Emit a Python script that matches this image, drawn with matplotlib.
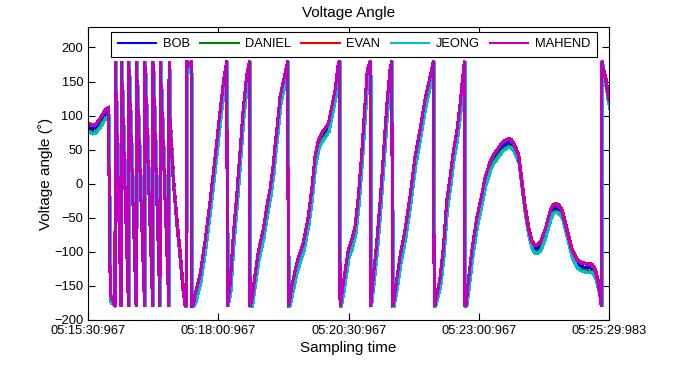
import numpy as np
import matplotlib
matplotlib.use("Agg")
import matplotlib.pyplot as plt

plt.rcParams['font.family'] = ['Liberation Sans', 'DejaVu Sans']

# ---- data (seconds from 05:15:30.967, angle in degrees) : MAHEND trace ----
t_base = [0, 4.6, 8.3, 14, 19.7, 23.4, 25.6, 31.0,
          31.3, 38.0, 38.3, 46.5, 46.8, 55.3, 55.6, 65.0, 65.3, 74.3, 74.6, 82.7, 83.0, 92.9,
          93.2, 94.3, 98.1, 102.0, 105.8, 108.4, 111.5, 112.7,
          113.3, 115.5, 118.0, 118.6, 119.2,
          121.1, 123.0, 128.8, 134.5, 140.3, 146.0, 151.8, 156.7, 159.6, 160.2,
          163.3, 167.1, 171.0, 174.8, 178.5, 182.5, 185.6, 186.3,
          188.2, 192.0, 195.8, 201.5, 207.3, 209.2, 213.0, 215.0, 218.8, 220.7, 226.5, 229.6, 230.3,
          231.4, 234.2, 239.9, 247.5, 253.3, 257.2, 261.0, 264.8, 268.7, 276.3, 280.2, 284.0, 287.8, 289.2, 289.8,
          290.5, 293.5, 299.3, 303.2, 307.0, 310.8, 314.7, 318.5, 321.1, 324.4, 325.0,
          328.0, 331.9, 335.7, 339.5, 343.4, 347.2, 349.3, 350.0,
          351.0, 354.9, 358.7, 364.5, 370.2, 376.0, 381.7, 387.4, 393.2, 397.2, 398.0,
          398.9, 404.7, 408.5, 412.4, 416.2, 420.0, 423.9, 427.7, 430.3, 432.8, 433.4,
          434.6, 437.2, 441.1, 446.9, 452.6, 456.4, 462.2, 466.0, 471.7, 475.6, 479.5, 483.2, 486.0,
          489.0, 494.7, 498.6, 502.4, 506.2, 510.1, 513.0, 515.9, 519.7, 525.4, 531.2, 534.0, 536.9,
          540.0, 544.6, 550.4, 556.1, 561.9, 567.6, 573.0, 579.1, 582.9, 586.7, 590.2, 590.8,
          593.2, 595.2, 597.1, 599.0]
a_base = [88, 85, 86, 96, 108, 111, -163, -180,
          180, -180, 180, -180, 180, -180, 180, -180, 180, -180, 180, -180, 180, -180,
          180, 91, 3, -56, -105, -144, -178, -180,
          180, 174, 178, 180, -180,
          -178, -163, -134, -85, -26, 37, 106, 159, 180, -180,
          -149, -75, -17, 47, 110, 159, 180, -180,
          -172, -134, -100, -67, -21, -9, 27, 55, 100, 127, 162, 180, -180,
          -175, -151, -117, -87, -48, -9, 39, 64, 74, 88, 113, 137, 176, 180, -180,
          -176, -146, -97, -83, -63, -19, 44, 118, 167, 180, -180,
          -136, -87, -29, 39, 113, 167, 180, -180,
          -178, -141, -107, -68, -19, 39, 79, 123, 157, 180, -180,
          -178, -139, -95, -26, 8, 47, 76, 115, 150, 180, -180,
          -178, -144, -100, -51, -17, 8, 32, 42, 52, 59, 63, 65.5, 64,
          59, 42, 3, -36, -65, -85, -90, -90, -87, -68, -41, -32, -30,
          -31, -39, -68, -97, -112, -117, -118, -119, -127, -146, -180, 180,
          162, 152, 135, 123]

series_names = ['BOB', 'DANIEL', 'EVAN', 'JEONG', 'MAHEND']
series_offsets = [-5, -10, 1, -12, 0]       # angle offset relative to MAHEND (deg)
series_lags = [0.3, 0.6, 0.5, 0.9, 0.0]     # time lag relative to MAHEND (s)
series_colors = ['#0000ff', '#008000', '#ff0000', '#00bfbf', '#bf00bf']

x_ticks = [0, 150, 300, 450, 599.016]
x_ticklabels = ['05:15:30:967', '05:18:00:967', '05:20:30:967', '05:23:00:967', '05:25:29:983']
y_ticks = [-200, -150, -100, -50, 0, 50, 100, 150, 200]

# ---- figure ----
fig = plt.figure(figsize=(6.74, 3.66), dpi=100)
ax = fig.add_axes([88/674, 1-320/366, (609-88)/674, (320-27)/366])

tb = np.array(t_base, dtype=float)
ab = np.array(a_base, dtype=float)
for name, off, lag, col in zip(series_names, series_offsets, series_lags, series_colors):
    a = np.where(np.abs(ab) == 180, ab, np.clip(ab + off, -180, 180))
    ax.plot(tb + lag, a, color=col, lw=1.5, label=name, antialiased=False,
            solid_joinstyle='miter')

ax.set_xlim(0, 599.016)
ax.set_ylim(-200, 230)
ax.set_xticks(x_ticks)
ax.set_xticklabels(x_ticklabels)
ax.set_yticks(y_ticks)
ax.tick_params(direction='in', top=True, right=True, length=5, width=0.8,
               labelsize=9.3, pad=3.5, colors='black')
for s in ax.spines.values():
    s.set_linewidth(0.8)
    s.set_color('black')

ax.set_title('Voltage Angle', fontsize=11, pad=7)
ax.set_xlabel('Sampling time', fontsize=11, labelpad=3)
ax.set_ylabel('Voltage angle (˚)', fontsize=11, labelpad=1)

leg = ax.legend(ncol=5, loc='upper center', bbox_to_anchor=(0.5106, 0.983),
                frameon=True, fancybox=False, edgecolor='black', framealpha=1,
                fontsize=9.25, handlelength=3, handletextpad=0.5, columnspacing=0.8,
                borderpad=0.5, borderaxespad=0)
leg.get_frame().set_linewidth(0.8)

fig.savefig('out.png', dpi=100)
